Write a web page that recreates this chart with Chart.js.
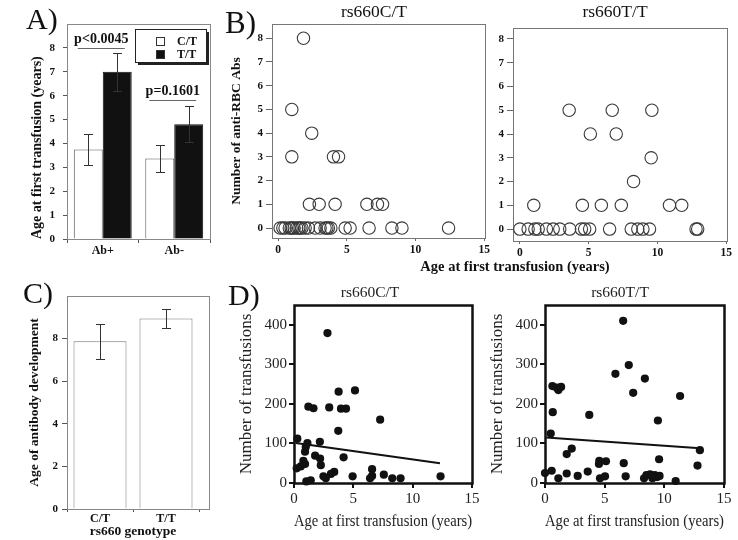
<!DOCTYPE html>
<html>
<head>
<meta charset="utf-8">
<title>rs660 genotype and transfusion</title>
<script src="https://cdn.jsdelivr.net/npm/chart.js@4.4.1/dist/chart.umd.min.js"></script>
<style>
  body { margin: 0; background: #fff; }
  #wrap { position: relative; width: 738px; height: 540px; }
  #wrap canvas { position: absolute; left: 0; top: 0; }
</style>
</head>
<body>
<div id="wrap">
  <canvas id="panelA" width="738" height="540"></canvas>
  <canvas id="panelB1" width="738" height="540"></canvas>
  <canvas id="panelB2" width="738" height="540"></canvas>
  <canvas id="panelC" width="738" height="540"></canvas>
  <canvas id="panelD1" width="738" height="540"></canvas>
  <canvas id="panelD2" width="738" height="540"></canvas>
</div>
<script>
// ---- data ----
// A) age at first transfusion, by antibody status and genotype
const abGroups = ['Ab+', 'Ab-'];
const genotypes = ['C/T', 'T/T'];
const ageCT = [3.75, 3.37];
const ageTT = [7.0, 4.8];
const ageCTLow = [3.1, 2.8];
const ageCTHigh = [4.4, 3.95];
const ageTTLow = [6.2, 4.05];
const ageTTHigh = [7.8, 5.55];
const pLabels = ['p<0.0045', 'p=0.1601'];
const pLevels = [8.0, 5.8];
const ticksA = [0, 1, 2, 3, 4, 5, 6, 7, 8];

// B) number of anti-RBC antibodies vs age at first transfusion
const abCTAge = [1.85, 1.0, 2.45, 1.0, 4.03, 4.4, 2.28, 2.99, 4.15, 6.46, 7.23, 7.6,
  0.15, 0.35, 0.51, 0.82, 0.95, 1.05, 1.17, 1.36, 1.5, 1.6, 1.73, 1.97, 2.21, 2.7,
  3.06, 3.42, 3.55, 3.66, 3.84, 4.88, 5.24, 6.62, 8.28, 9.01, 12.4];
const abCTCount = [8, 5, 4, 3, 3, 3, 1, 1, 1, 1, 1, 1,
  0, 0, 0, 0, 0, 0, 0, 0, 0, 0, 0, 0, 0, 0, 0, 0, 0, 0, 0, 0, 0, 0, 0, 0, 0];
const abTTAge = [3.58, 6.71, 9.59, 5.12, 7.0, 9.54, 8.26, 1.01, 4.54, 5.92, 7.37, 10.87, 11.76,
  0, 0.6, 1.09, 1.33, 1.93, 2.42, 2.9, 3.62, 4.47, 4.71, 5.07, 6.52, 8.09, 8.57, 8.94, 9.42, 12.8, 12.92];
const abTTCount = [5, 5, 5, 4, 4, 3, 2, 1, 1, 1, 1, 1, 1,
  0, 0, 0, 0, 0, 0, 0, 0, 0, 0, 0, 0, 0, 0, 0, 0, 0, 0];
const ticksBX = [0, 5, 10, 15];
const ticksBY = [0, 1, 2, 3, 4, 5, 6, 7, 8];

// C) age of antibody development
const devAge = [7.87, 8.94];
const devLow = [7.04, 8.52];
const devHigh = [8.7, 9.41];
const ticksC = [0, 2, 4, 6, 8];

// D) number of transfusions vs age at first transfusion
const txCTAge = [2.82, 3.76, 5.14, 1.21, 1.64, 2.97, 3.96, 4.38, 7.26, 3.73, 0.28, 1.13, 2.18,
  0.99, 0.93, 1.78, 2.2, 4.18, 0.79, 0.93, 2.26, 0.57, 0.23, 3.39, 3.11, 6.58, 6.58, 6.41,
  7.57, 8.28, 8.98, 4.94, 2.48, 2.68, 1.04, 1.41, 12.35];
const txCTCount = [379, 231, 234, 193, 189, 191, 188, 188, 160, 132, 112, 101, 104,
  91, 79, 69, 62, 65, 56, 48, 45, 42, 37, 28, 23, 35, 18, 12,
  21, 12, 12, 17, 17, 12, 4, 7, 17];
const txTTAge = [6.55, 7.02, 5.9, 8.37, 7.39, 11.32, 0.62, 0.98, 1.12, 1.35, 0.65, 3.71, 9.46,
  0.48, 2.24, 1.82, 4.55, 4.52, 5.11, 6.6, 9.56, 12.78, 12.98, 0.0, 0.56, 1.12, 1.82, 2.74,
  3.58, 4.61, 5.03, 6.76, 8.3, 8.5, 8.8, 9.0, 9.2, 9.4, 9.6, 10.95];
const txTTCount = [410, 298, 276, 264, 228, 220, 245, 241, 235, 243, 179, 172, 158,
  125, 87, 73, 56, 48, 55, 50, 60, 44, 83, 25, 31, 12, 24, 18,
  29, 12, 17, 17, 12, 20, 22, 12, 20, 15, 18, 5];
const fitCTAge = [0.15, 12.3];
const fitCTCount = [101, 50];
const fitTTAge = [0.1, 13.0];
const fitTTCount = [115, 88];
const ticksDX = [0, 5, 10, 15];
const ticksDY = [0, 100, 200, 300, 400];

// ---- helpers ----
const SERIF = '"Liberation Serif", "Times New Roman", serif';
const W = 738, H = 540;

// padding so that the plot area lands on l/t/r/b, with a y axis yw wide and an x axis xh high
function pad(l, t, r, b, yw, xh) {
  return { left: l - yw, top: t, right: W - r, bottom: H - b - xh };
}
function font(size, bold) {
  return { family: SERIF, size: size, weight: bold ? 'bold' : 'normal' };
}
function fixedTicks(values) {
  return s => { s.ticks = values.map(v => ({ value: v })); };
}
function points(xs, ys) {
  return xs.map((x, i) => ({ x: x, y: ys[i] }));
}

function textPlugin(items) {
  return {
    id: 'texts',
    afterDraw(chart) {
      const ctx = chart.ctx;
      items.forEach(it => {
        ctx.save();
        ctx.font = it.font;
        ctx.fillStyle = it.color || '#111';
        ctx.textAlign = it.align || 'center';
        ctx.textBaseline = it.baseline || 'middle';
        ctx.translate(it.x, it.y);
        if (it.rotate) ctx.rotate(it.rotate);
        ctx.fillText(it.text, 0, 0);
        ctx.restore();
      });
    }
  };
}

function framePlugin(color, width, extraRight) {
  return {
    id: 'frame',
    beforeDatasetsDraw(chart) {
      const { ctx, chartArea: a } = chart;
      ctx.save();
      ctx.strokeStyle = color;
      ctx.lineWidth = width;
      const o = width % 2 ? 0.5 : 0;
      ctx.strokeRect(Math.round(a.left) + o, Math.round(a.top) + o,
        Math.round(a.right - a.left + (extraRight || 0)), Math.round(a.bottom - a.top));
      ctx.restore();
    }
  };
}

function errorBarPlugin(lows, highs, color) {
  return {
    id: 'errorBars',
    afterDatasetsDraw(chart) {
      const ctx = chart.ctx, ys = chart.scales.y;
      ctx.save();
      ctx.strokeStyle = color;
      ctx.lineWidth = 1;
      lows.forEach((lo, di) => {
        chart.getDatasetMeta(di).data.forEach((bar, i) => {
          const x = Math.round(bar.x) + 0.5;
          const y1 = Math.round(ys.getPixelForValue(lo[i])) + 0.5;
          const y2 = Math.round(ys.getPixelForValue(highs[di][i])) + 0.5;
          ctx.beginPath();
          ctx.moveTo(x, y1); ctx.lineTo(x, y2);
          ctx.moveTo(x - 4.5, y1); ctx.lineTo(x + 4.5, y1);
          ctx.moveTo(x - 4.5, y2); ctx.lineTo(x + 4.5, y2);
          ctx.stroke();
        });
      });
      ctx.restore();
    }
  };
}

// p-value brackets above the bar pairs in panel A
const pValuePlugin = {
  id: 'pValues',
  afterDatasetsDraw(chart) {
    const ctx = chart.ctx, ys = chart.scales.y;
    const ct = chart.getDatasetMeta(0).data, tt = chart.getDatasetMeta(1).data;
    ctx.save();
    pLabels.forEach((txt, i) => {
      const x1 = ct[i].x - ct[i].width / 2 + 4;
      const x2 = tt[i].x + tt[i].width / 2 - 7;
      const y = Math.round(ys.getPixelForValue(pLevels[i])) + 0.5;
      ctx.strokeStyle = '#666';
      ctx.lineWidth = 1;
      ctx.beginPath();
      ctx.moveTo(x1, y); ctx.lineTo(x2, y);
      ctx.stroke();
      ctx.fillStyle = '#111';
      ctx.font = 'bold 14px ' + SERIF;
      ctx.textAlign = 'center';
      ctx.textBaseline = 'middle';
      ctx.fillText(txt, (x1 + x2) / 2, y - 9);
    });
    ctx.restore();
  }
};

// boxed legend with a drop shadow, inside panel A
const legendPlugin = {
  id: 'legendBox',
  afterDraw(chart) {
    const ctx = chart.ctx;
    const x = 135, y = 29, w = 71, h = 33;
    ctx.save();
    ctx.fillStyle = '#222';
    ctx.fillRect(x + 3, y + 3, w, h);
    ctx.fillStyle = '#fff';
    ctx.fillRect(x, y, w, h);
    ctx.strokeStyle = '#222';
    ctx.lineWidth = 1;
    ctx.strokeRect(x + 0.5, y + 0.5, w, h);
    chart.data.datasets.forEach((ds, i) => {
      const iy = y + 8 + i * 13;
      ctx.fillStyle = ds.backgroundColor;
      ctx.fillRect(x + 21, iy, 9, 9);
      ctx.strokeStyle = '#333';
      ctx.strokeRect(x + 21.5, iy + 0.5, 8, 8);
      ctx.fillStyle = '#111';
      ctx.font = 'bold 12px ' + SERIF;
      ctx.textAlign = 'left';
      ctx.textBaseline = 'middle';
      ctx.fillText(ds.label, x + 42, iy + 4.5);
    });
    ctx.restore();
  }
};

const base = {
  responsive: false,
  animation: false,
  events: [],
  plugins: { legend: { display: false }, tooltip: { enabled: false } }
};

// ---- A) ----
new Chart(document.getElementById('panelA'), {
  type: 'bar',
  data: {
    labels: abGroups,
    datasets: [
      { label: genotypes[0], data: ageCT, backgroundColor: '#ffffff', borderColor: '#555', borderWidth: 1 },
      { label: genotypes[1], data: ageTT, backgroundColor: '#111111', borderColor: '#111', borderWidth: 1 }
    ]
  },
  options: {
    ...base,
    layout: { padding: pad(67, 24, 210, 239, 67, 31) },
    datasets: { bar: { categoryPercentage: 0.81, barPercentage: 1.0 } },
    scales: {
      x: {
        grid: { drawOnChartArea: false, tickLength: 4, color: '#555' },
        border: { color: '#555' },
        ticks: { font: font(12, true), color: '#111', padding: 1 },
        afterFit: s => { s.height = 31; }
      },
      y: {
        min: 0, max: 9,
        afterBuildTicks: fixedTicks(ticksA),
        grid: { drawOnChartArea: false, tickLength: 4, color: '#555' },
        border: { color: '#555' },
        ticks: { font: font(11, true), color: '#111', padding: 8 },
        title: { display: true, text: 'Age at first transfusion (years)', align: 'start',
          font: font(14, true), color: '#111', padding: { top: 28.6, bottom: 0 } },
        afterFit: s => { s.width = 67; }
      }
    }
  },
  plugins: [
    framePlugin('#888', 1),
    errorBarPlugin([ageCTLow, ageTTLow], [ageCTHigh, ageTTHigh], '#333'),
    pValuePlugin,
    legendPlugin,
    textPlugin([{ text: 'A)', x: 26, y: 29, font: '30px ' + SERIF, align: 'left', baseline: 'alphabetic' }])
  ]
});

// ---- B) ----
function abScatter(id, area, yw, xs, ys, withTitle, texts) {
  return new Chart(document.getElementById(id), {
    type: 'scatter',
    data: {
      datasets: [{
        data: points(xs, ys),
        pointRadius: 6.2,
        pointBackgroundColor: 'rgba(255,255,255,0)',
        pointBorderColor: '#3a3a3a',
        pointBorderWidth: 1.1,
        clip: false
      }]
    },
    options: {
      ...base,
      layout: { padding: pad(area.l, area.t, area.r, area.b, yw, 20) },
      scales: {
        x: {
          type: 'linear', min: area.xmin, max: 15.05,
          afterBuildTicks: fixedTicks(ticksBX),
          grid: { drawOnChartArea: false, tickLength: 3, color: '#666' },
          border: { color: '#666' },
          ticks: { font: font(11.5, true), color: '#111', padding: 2 },
          afterFit: s => { s.height = 20; }
        },
        y: {
          min: area.ymin, max: area.ymax,
          afterBuildTicks: fixedTicks(ticksBY),
          grid: { drawOnChartArea: false, tickLength: 6, color: '#666' },
          border: { color: '#666' },
          ticks: { font: font(11, true), color: '#111', padding: 3 },
          title: { display: withTitle, text: 'Number of anti-RBC Abs',
            font: font(13.5, true), color: '#111', padding: { top: 3.9, bottom: 0 } },
          afterFit: s => { s.width = yw; }
        }
      }
    },
    plugins: [framePlugin('#777', 1), textPlugin(texts)]
  });
}

abScatter('panelB1', { l: 272, t: 24, r: 485, b: 238, xmin: -0.44, ymin: -0.42, ymax: 8.6 }, 47,
  abCTAge, abCTCount, true, [
    { text: 'B)', x: 225, y: 33, font: '31px ' + SERIF, align: 'left', baseline: 'alphabetic' },
    { text: 'rs660C/T', x: 374, y: 12, font: '17.5px ' + SERIF },
    { text: 'Age at first transfusion (years)', x: 515, y: 267, font: 'bold 14.5px ' + SERIF }
  ]);
abScatter('panelB2', { l: 513, t: 28, r: 727, b: 241, xmin: -0.5, ymin: -0.5, ymax: 8.46 }, 47,
  abTTAge, abTTCount, false, [
    { text: 'rs660T/T', x: 615, y: 12, font: '17.5px ' + SERIF }
  ]);

// ---- C) ----
new Chart(document.getElementById('panelC'), {
  type: 'bar',
  data: {
    labels: genotypes,
    datasets: [{ label: 'Age of antibody development', data: devAge,
      backgroundColor: '#ffffff', borderColor: '#777', borderWidth: 1 }]
  },
  options: {
    ...base,
    layout: { padding: pad(67, 296, 199, 509, 67, 31) },
    datasets: { bar: { categoryPercentage: 1.0, barPercentage: 0.803 } },
    scales: {
      x: {
        grid: { drawOnChartArea: false, tickLength: 3, color: '#555' },
        border: { color: '#555' },
        ticks: { font: font(12, true), color: '#111', padding: 0 },
        title: { display: true, text: 'rs660 genotype', font: font(13.5, true), color: '#111',
          padding: { top: 0, bottom: 0 } },
        afterFit: s => { s.height = 31; }
      },
      y: {
        min: 0, max: 10,
        afterBuildTicks: fixedTicks(ticksC),
        grid: { drawOnChartArea: false, tickLength: 5, color: '#555' },
        border: { color: '#555' },
        ticks: { font: font(11, true), color: '#111', padding: 4 },
        title: { display: true, text: 'Age of antibody development',
          font: font(13.5, true), color: '#111', padding: { top: 26.9, bottom: 0 } },
        afterFit: s => { s.width = 67; }
      }
    }
  },
  plugins: [
    framePlugin('#888', 1, 10),
    errorBarPlugin([devLow], [devHigh], '#333'),
    textPlugin([{ text: 'C)', x: 23, y: 303, font: '30px ' + SERIF, align: 'left', baseline: 'alphabetic' }])
  ]
});

// ---- D) ----
function txScatter(id, l, r, xs, ys, fx, fy, texts) {
  return new Chart(document.getElementById(id), {
    type: 'scatter',
    data: {
      datasets: [
        { data: points(xs, ys), pointRadius: 4.1, pointBackgroundColor: '#111',
          pointBorderColor: '#111', pointBorderWidth: 0, clip: false },
        { type: 'line', data: points(fx, fy), borderColor: '#111', borderWidth: 2,
          pointRadius: 0, showLine: true, fill: false }
      ]
    },
    options: {
      ...base,
      layout: { padding: pad(l, 305, r, 483, 64, 50) },
      scales: {
        x: {
          type: 'linear', min: 0, max: 15,
          afterBuildTicks: fixedTicks(ticksDX),
          grid: { drawOnChartArea: false, tickLength: 5, color: '#111', lineWidth: 2 },
          border: { display: false },
          ticks: { font: font(15), color: '#222', padding: 2 },
          title: { display: true, text: 'Age at first transfusion (years)', font: font(17),
            color: '#222', padding: { top: 0, bottom: 0.8 } },
          afterFit: s => { s.height = 50; }
        },
        y: {
          min: 0, max: 450,
          afterBuildTicks: fixedTicks(ticksDY),
          grid: { drawOnChartArea: false, tickLength: 5, color: '#111', lineWidth: 2 },
          border: { display: false },
          ticks: { font: font(15), color: '#222', padding: 2 },
          title: { display: true, text: 'Number of transfusions', font: font(17), color: '#222',
            padding: { top: 6.8, bottom: 0 } },
          afterFit: s => { s.width = 64; }
        }
      }
    },
    plugins: [framePlugin('#111', 2.5), textPlugin(texts)]
  });
}

txScatter('panelD1', 294, 472, txCTAge, txCTCount, fitCTAge, fitCTCount, [
  { text: 'D)', x: 228, y: 305, font: '30px ' + SERIF, align: 'left', baseline: 'alphabetic' },
  { text: 'rs660C/T', x: 370, y: 293, font: '15.5px ' + SERIF, color: '#222' }
]);
txScatter('panelD2', 545, 724, txTTAge, txTTCount, fitTTAge, fitTTCount, [
  { text: 'rs660T/T', x: 620, y: 293, font: '15.5px ' + SERIF, color: '#222' }
]);
</script>
</body>
</html>
